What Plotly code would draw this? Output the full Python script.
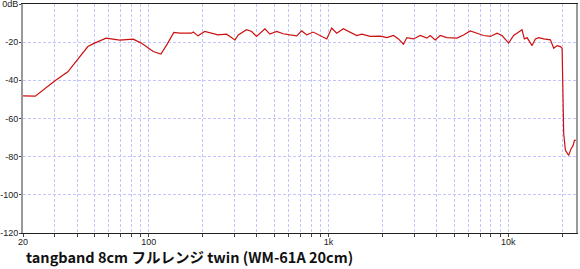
import plotly.graph_objects as go
import math

freq_hz = [20, 23.4, 30, 35.5, 45.9, 50, 58, 69, 82, 91, 106, 117, 126, 138, 149, 159, 173, 177,
           188, 205, 224, 243, 271, 302, 315, 350, 374, 398, 443, 472, 515, 560, 610, 665, 710,
           757, 823, 897, 978, 1042, 1111, 1209, 1318, 1437, 1532, 1704, 1936, 2110, 2298, 2450,
           2612, 2728, 2970, 3236, 3526, 3678, 3922, 4182, 4558, 5180, 5636, 6146, 6698, 7290,
           7944, 8656, 9230, 10044, 10710, 11928, 12284, 12716, 13562, 14148, 14760, 15734,
           17150, 17892, 18690, 19496, 19920, 19950, 20180, 20330, 20780, 21680, 22360, 22940,
           23340, 23800]
level_db = [-48.1, -48.3, -40.4, -35.5, -22.3, -20.5, -17.9, -18.9, -18.4, -20.5, -24.9, -26.2,
            -21.4, -14.9, -15.3, -15.3, -15.3, -14.7, -16.7, -14.4, -15.3, -16.2, -15.8, -18.8,
            -16.2, -13.5, -14.4, -17.0, -13.0, -15.8, -14.4, -15.6, -16.2, -16.7, -14.1, -16.2,
            -14.7, -16.5, -18.3, -12.6, -15.3, -13.0, -14.7, -16.5, -15.8, -17.0, -16.8, -17.6,
            -16.5, -18.3, -21.1, -17.6, -18.3, -16.5, -17.9, -16.5, -18.8, -16.5, -17.6, -17.9,
            -16.2, -14.1, -15.3, -16.5, -17.0, -15.3, -16.5, -20.5, -16.5, -13.5, -18.3, -17.6,
            -21.8, -18.3, -17.6, -18.3, -18.8, -23.2, -21.8, -22.3, -23.2, -29.3, -59.2, -67.9,
            -76.7, -79.3, -75.8, -74.1, -71.4, -71.4]

x_grid = [20, 30, 40, 50, 60, 70, 80, 90, 100, 200, 300, 400, 500, 600, 700, 800, 900,
          1000, 2000, 3000, 4000, 5000, 6000, 7000, 8000, 9000, 10000, 20000]
x_labels = {20: "20", 100: "100", 1000: "1k", 10000: "10k"}
y_ticks = [-120, -100, -80, -60, -40, -20, 0]
y_labels = ["-120", "-100", "-80", "-60", "-40", "-20", "0dB"]
title_text = "tangband 8cm フルレンジ twin (WM-61A 20cm)"
f_min, f_max = 20, 23800

fig = go.Figure()
fig.add_trace(go.Scatter(x=freq_hz, y=level_db, mode="lines",
                         line=dict(color="#cc1010", width=1.2), hoverinfo="skip"))

fig.update_layout(
    width=580, height=269,
    margin=dict(l=23, r=4, t=4, b=36, autoexpand=False),
    paper_bgcolor="white", plot_bgcolor="white",
    showlegend=False,
    font=dict(family="Liberation Sans", size=9, color="#222"),
    xaxis=dict(type="log", range=[math.log10(f_min), math.log10(f_max)],
               tickvals=x_grid, ticktext=[x_labels.get(v, "") for v in x_grid],
               showgrid=True, gridcolor="#c4c4ff", griddash="3px,2px", gridwidth=1,
               showline=True, linecolor="#222", linewidth=1, mirror=True, automargin=False,
               ticks="outside", ticklen=3, tickcolor="#444", zeroline=False,
               ticklabelstandoff=-3),
    yaxis=dict(range=[-120, 0], tickvals=y_ticks, ticktext=y_labels,
               showgrid=True, gridcolor="#c4c4ff", griddash="3px,2px", gridwidth=1,
               showline=True, linecolor="#999", linewidth=2, mirror=True, automargin=False,
               ticks="outside", ticklen=2, tickcolor="#444", zeroline=False,
               ticklabelstandoff=-1, ticklabeloverflow="allow"),
    annotations=[dict(text="<b>" + title_text + "</b>", xref="paper", yref="paper",
                      x=0.0, y=0, xanchor="left", yanchor="top", yshift=-11, xshift=1,
                      showarrow=False,
                      font=dict(family="Noto Sans CJK JP", size=14.5, color="#111"))],
)
fig.write_html("out.html")
